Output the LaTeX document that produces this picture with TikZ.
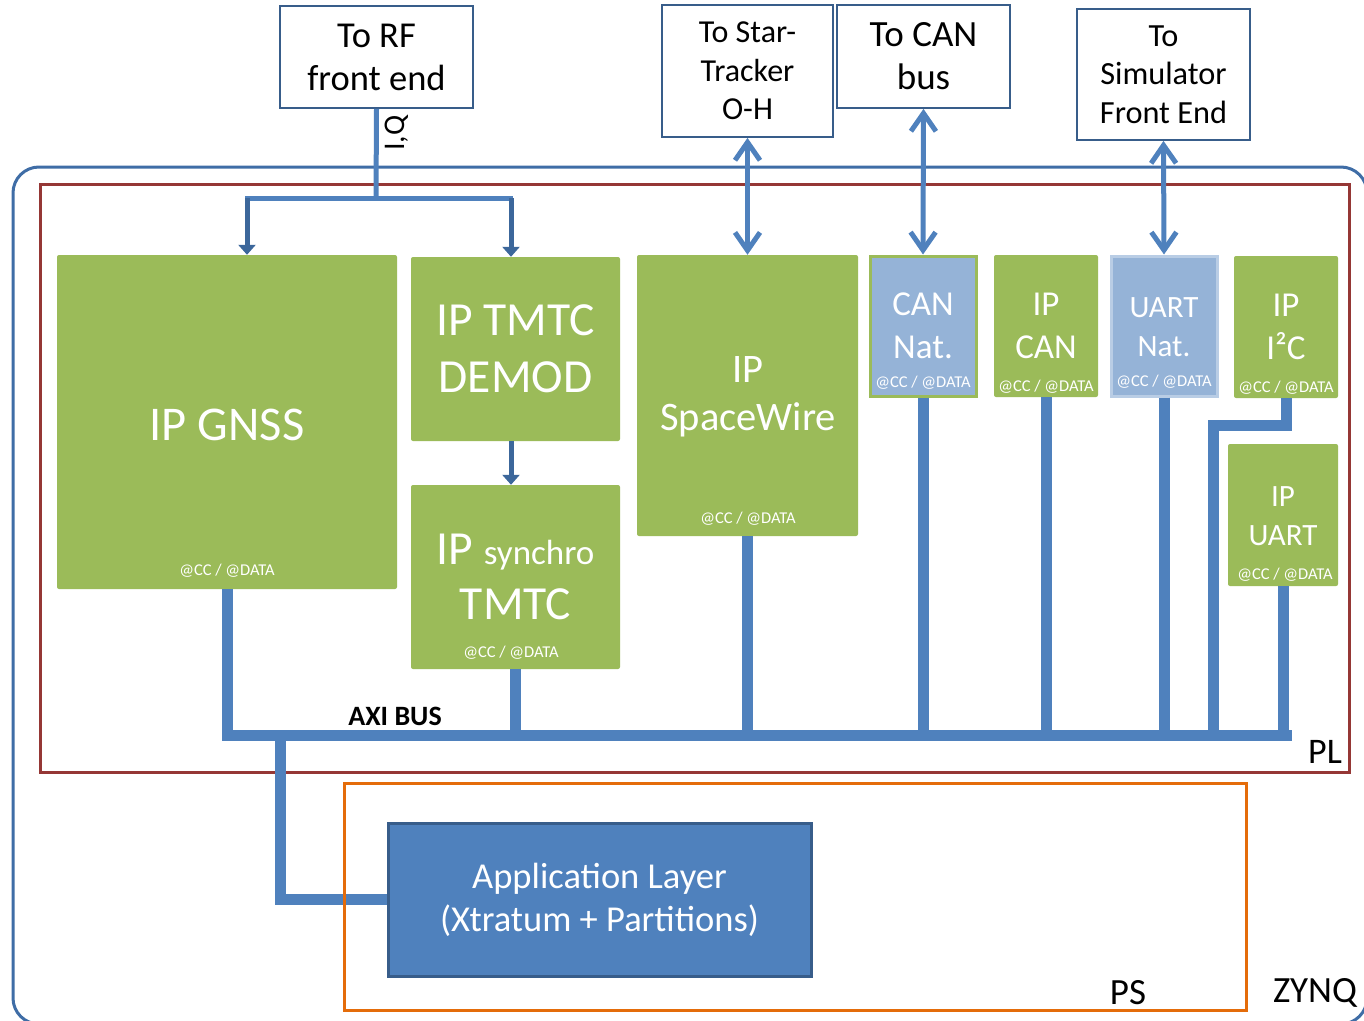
\documentclass[tikz,border=0pt]{standalone}
\usepackage{fontspec}
\setmainfont{Carlito}
\usetikzlibrary{arrows.meta}
\definecolor{busblue}{HTML}{4F81BD}
\definecolor{darkarrow}{HTML}{3C679B}
\definecolor{boxedge}{HTML}{385D8A}
\definecolor{ipgreen}{HTML}{9BBB59}
\definecolor{natblue}{HTML}{95B3D7}
\definecolor{natedge}{HTML}{B9CDE5}
\definecolor{zynqblue}{HTML}{3F6DA6}
\definecolor{plred}{HTML}{953735}
\definecolor{psorange}{HTML}{E46C0A}
\newcommand\fsz[2]{\fontsize{#1}{#2}\selectfont}
\begin{document}
\begin{tikzpicture}[x=1pt,y=-1pt,
  ext/.style={draw=boxedge,line width=1.8pt,fill=white,align=center,inner sep=0pt,text=black},
  ipbox/.style={fill=ipgreen,rounded corners=2pt,align=center,inner sep=0pt,text=white},
  natbox/.style={fill=natblue,line width=3pt,align=center,inner sep=0pt,text=white},
  cc/.style={text=white,font=\fsz{16.5}{19},inner sep=0pt},
  lbl/.style={text=black,inner sep=0pt},
  bus/.style={draw=busblue,line width=11pt},
  feed/.style={draw=busblue,line width=5pt},
  drop/.style={draw=darkarrow,line width=5pt,-{Triangle[length=10pt,width=17pt]}},
  link/.style={draw=busblue,line width=5pt,
    {Straight Barb[length=18pt,width=25pt]}-{Straight Barb[length=18pt,width=25pt]}}]

\useasboundingbox (0,0) rectangle (1364,1020);

% enclosing regions
\draw[zynqblue,line width=3pt,rounded corners=26pt] (13,167) rectangle (1367,1024);
\draw[plred,line width=3pt] (40,184) rectangle (1349,772);

% RF front end and its split feed
\node[ext,minimum width=193pt,minimum height=102pt,font=\fsz{36.5}{43}] (rf) at (376.5,57) {To RF\\front end};
\node[lbl,rotate=90,font=\fsz{30}{36}] (iq) at (397,133) {I,Q};
\coordinate (split) at (376,198);
\coordinate (splitL) at (245,198);
\coordinate (splitR) at (513,198);
\draw[feed] (rf.south) -- (split);
\draw[feed] (splitL) -- (splitR);

% external interface boxes
\node[ext,minimum width=171pt,minimum height=132pt,font=\fsz{32}{38.5}] (star) at (747.5,71) {To Star-\\Tracker\\O-H};
\node[ext,minimum width=173pt,minimum height=103pt,font=\fsz{37}{43}] (canbus) at (923.5,56.5) {To CAN\\bus};
\node[ext,minimum width=173pt,minimum height=131pt,font=\fsz{32.3}{38.5}] (sim) at (1163.5,74.5) {To\\Simulator\\Front End};

% IP blocks in the programmable logic
\node[ipbox,minimum width=340pt,minimum height=334pt,font=\fsz{48.5}{56}] (gnss) at (227,422) {};
\node[text=white,inner sep=0pt,font=\fsz{48.5}{56}] (gnsstxt) at (227,425) {IP GNSS};
\node[ipbox,minimum width=209pt,minimum height=184pt,font=\fsz{47.5}{57}] (demod) at (515.5,349) {IP TMTC\\DEMOD};
\node[ipbox,minimum width=209pt,minimum height=184pt] (synchro) at (515.5,577) {};
\node[text=white,align=center,inner sep=0pt,font=\fsz{47.5}{55}] (synchrotxt) at (515.5,577) {IP {\fsz{35}{40}synchro}\\TMTC};
\node[ipbox,minimum width=221pt,minimum height=281pt] (spw) at (747.5,395.5) {};
\node[text=white,align=center,inner sep=0pt,font=\fsz{40.5}{48}] (spwtxt) at (748,397) {IP\\SpaceWire};
\node[natbox,draw=ipgreen,minimum width=106pt,minimum height=140pt] (cannat) at (923,326) {};
\node[text=white,align=center,inner sep=0pt,font=\fsz{35}{43}] (cannattxt) at (923,326) {CAN\\Nat.};
\node[ipbox,minimum width=104pt,minimum height=142pt] (ipcan) at (1046,326) {};
\node[text=white,align=center,inner sep=0pt,font=\fsz{35}{43}] (ipcantxt) at (1046,326) {IP\\CAN};
\node[natbox,draw=natedge,minimum width=106pt,minimum height=140pt] (uartnat) at (1164,326) {};
\node[text=white,align=center,inner sep=0pt,font=\fsz{31}{39}] (uartnattxt) at (1164,327) {UART\\Nat.};
\node[ipbox,minimum width=104pt,minimum height=142pt] (i2c) at (1286,327) {};
\node[text=white,align=center,inner sep=0pt,font=\fsz{35}{43}] (i2ctxt) at (1286,327) {IP\\I²C};
\node[ipbox,minimum width=110pt,minimum height=142pt] (ipuart) at (1283,515) {};
\node[text=white,align=center,inner sep=0pt,font=\fsz{31}{39}] (ipuarttxt) at (1283,516) {IP\\UART};

% register/data address tags
\node[cc] (gnsscc) at (227,571) {@CC / @DATA};
\node[cc] (synchrocc) at (511,653) {@CC / @DATA};
\node[cc] (spwcc) at (748,519) {@CC / @DATA};
\node[cc] (cannatcc) at (923,383) {@CC / @DATA};
\node[cc] (ipcancc) at (1046,387) {@CC / @DATA};
\node[cc] (uartnatcc) at (1164,382) {@CC / @DATA};
\node[cc] (i2ccc) at (1286,388) {@CC / @DATA};
\node[cc] (ipuartcc) at (1285,575) {@CC / @DATA};

% RF feed into the receivers
\draw[drop] (splitL -| 247,0) -- (gnss.north -| 247,0);
\draw[drop] (splitR -| 511,0) -- (demod.north -| 511,0);
\draw[drop] (demod.south -| 511,0) -- (synchro.north -| 511,0);

% bidirectional external links
\draw[link] (star.south) -- (spw.north);
\draw[link] (canbus.south) -- (cannat.north);
\draw[link] (sim.south) -- (uartnat.north);

% AXI bus
\coordinate (busL) at (222,735);
\coordinate (busR) at (1292,735);
\coordinate (tap) at (280,735);
\draw[bus] (gnss.south) -- (gnss.south |- busL);
\draw[bus] (synchro.south) -- (synchro.south |- busL);
\draw[bus] (spw.south) -- (spw.south |- busL);
\draw[bus] (cannat.south) -- (cannat.south |- busL);
\draw[bus] (ipcan.south) -- (ipcan.south |- busL);
\draw[bus] (uartnat.south) -- (uartnat.south |- busL);
\draw[bus] (ipuart.south) -- (ipuart.south |- busL);
\coordinate (i2cbend) at (1286,425);
\coordinate (i2cside) at (1213,425);
\draw[bus] (i2c.south) -- (i2cbend) -- (i2cside) -- (i2cside |- busL);
\draw[bus] (busL) -- (busR);
\node[lbl,font=\bfseries\fsz{28}{32}] (axi) at (395,716) {AXI BUS};
\node[lbl,font=\fsz{36}{40}] (pl) at (1325,752) {PL};

% processing system
\node[draw=boxedge,line width=3pt,fill=busblue,minimum width=423pt,minimum height=153pt,
  align=center,inner sep=0pt,text=white,font=\fsz{36.5}{43}] (app) at (599.5,899.5)
  {Application Layer\\(Xtratum + Partitions)};
\draw[bus] (tap) |- (app.west);
\draw[psorange,line width=3pt] (344,783) rectangle (1246,1010);
\node[lbl,font=\fsz{37}{40}] (ps) at (1128,993) {PS};
\node[lbl,font=\fsz{37}{40}] (zynq) at (1315,993) {ZYNQ};
\end{tikzpicture}
\end{document}
